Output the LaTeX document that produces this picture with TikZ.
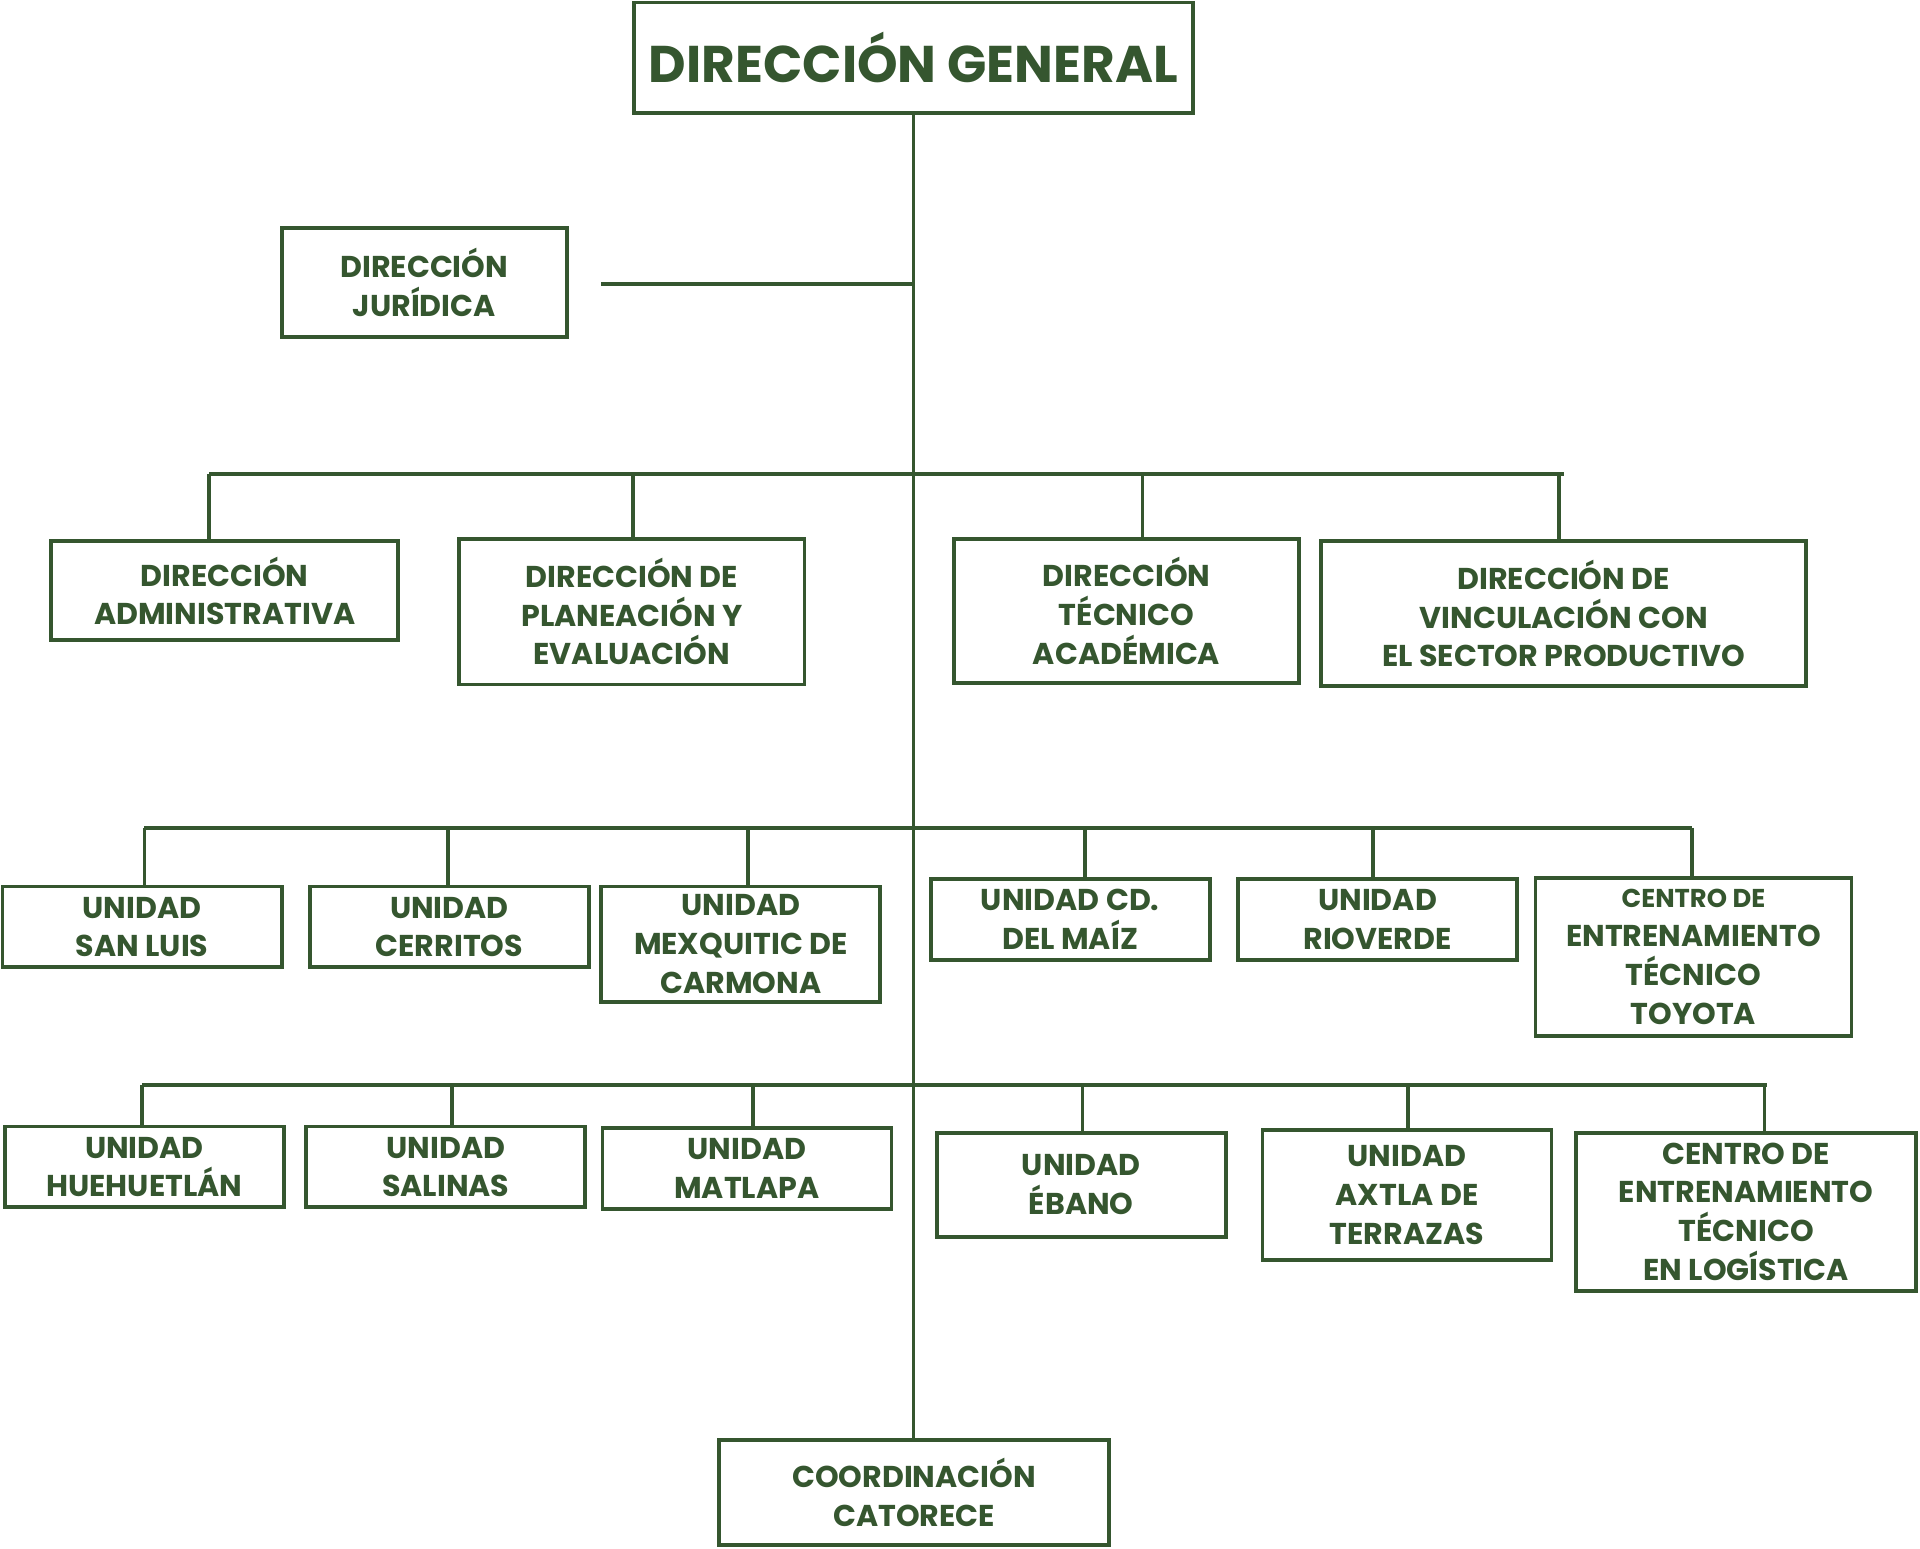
\documentclass[tikz,border=0pt]{standalone}
\usepackage{fontspec}
\setmainfont{Poppins}
\definecolor{dg}{HTML}{35562F}
\begin{document}
\begin{tikzpicture}[x=0.02cm,y=-0.02cm,
  box/.style={draw=dg,line width=1.8pt,align=center,text=dg,font=\fontsize{14}{18}\selectfont\bfseries,inner sep=0pt},
  ln/.style={draw=dg,line width=1.8pt}]
\useasboundingbox (0,0) rectangle (1568,1265);
\newcommand{\bx}[6]{\node[box,minimum width=#4*0.02cm,minimum height=#5*0.02cm] (#1) at (#2,#3) {#6};}
\bx{dg}{746}{47}{456}{90}{\fontsize{24}{28}\selectfont DIRECCIÓN GENERAL}
\bx{dj}{346.5}{230.5}{233}{89}{DIRECCIÓN\\JURÍDICA}
\bx{da}{183.5}{482.5}{283}{81}{DIRECCIÓN\\ADMINISTRATIVA}
\bx{dpe}{516}{499.5}{282}{119}{DIRECCIÓN DE\\PLANEACIÓN Y\\EVALUACIÓN}
\bx{dta}{920}{499}{282}{118}{DIRECCIÓN\\TÉCNICO\\ACADÉMICA}
\bx{dv}{1277}{501}{396}{118}{DIRECCIÓN DE\\VINCULACIÓN CON\\EL SECTOR PRODUCTIVO}
\bx{usl}{116}{757}{228}{66}{UNIDAD\\SAN LUIS}
\bx{uc}{367}{757}{228}{66}{UNIDAD\\CERRITOS}
\bx{umc}{605}{771}{228}{94}{UNIDAD\\MEXQUITIC DE\\CARMONA}
\bx{ucd}{874}{751}{228}{66}{UNIDAD CD.\\DEL MAÍZ}
\bx{ur}{1125}{751}{228}{66}{UNIDAD\\RIOVERDE}
\bx{ctt}{1383}{781.5}{258}{129}{\fontsize{12}{15}\selectfont CENTRO DE\\ENTRENAMIENTO\\TÉCNICO\\TOYOTA}
\bx{uh}{118}{953}{228}{66}{UNIDAD\\HUEHUETLÁN}
\bx{us}{364}{953}{228}{66}{UNIDAD\\SALINAS}
\bx{um}{610}{954}{236}{66}{UNIDAD\\MATLAPA}
\bx{ue}{883}{967.5}{236}{85}{UNIDAD\\ÉBANO}
\bx{uat}{1149}{976}{236}{106}{UNIDAD\\AXTLA DE\\TERRAZAS}
\bx{ctl}{1426}{989.5}{278}{129}{CENTRO DE\\ENTRENAMIENTO\\TÉCNICO\\EN LOGÍSTICA}
\bx{cc}{746.5}{1219}{319}{86}{COORDINACIÓN\\CATORECE}
\coordinate (djend) at (491,232);
\draw[ln] (dg.south) -- (dg.south |- cc.north);
\draw[ln] (djend) -- (746,232);
\draw[ln] (171,387) -- (1277,387);
\foreach \n/\x in {da/171,dpe/517,dta/933,dv/1273} \draw[ln] (\x,387) -- (\x,0 |- \n.north);
\draw[ln] (118,676) -- (1382,676);
\foreach \n/\x in {usl/118,uc/366,umc/611,ucd/886,ur/1121,ctt/1382} \draw[ln] (\x,676) -- (\x,0 |- \n.north);
\draw[ln] (116,886) -- (1443,886);
\foreach \n/\x in {uh/116,us/369,um/615,ue/884,uat/1150,ctl/1441} \draw[ln] (\x,886) -- (\x,0 |- \n.north);
\end{tikzpicture}
\end{document}
